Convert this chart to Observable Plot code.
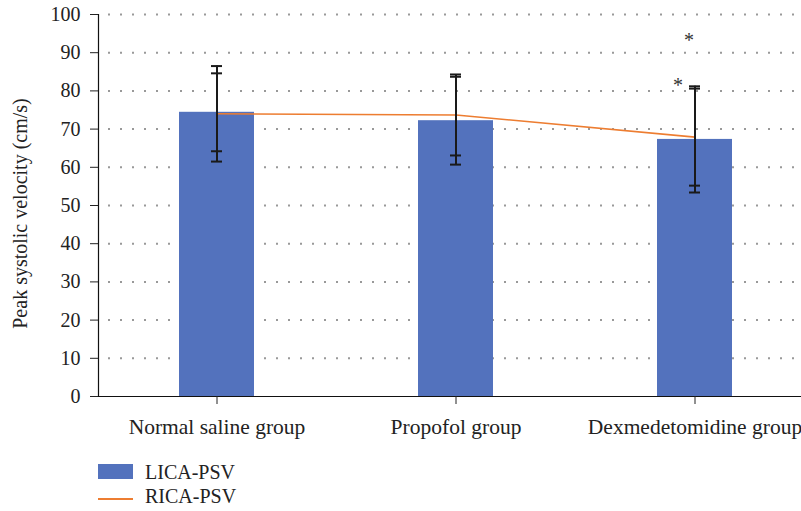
<!DOCTYPE html>
<html>
<head>
<meta charset="utf-8">
<script src="https://cdn.jsdelivr.net/npm/d3@7"></script>
<script src="https://cdn.jsdelivr.net/npm/@observablehq/plot@0.6"></script>
<style>
  body { margin: 0; background: #fff; font-family: "Liberation Serif", serif; }
  #wrap { position: relative; width: 801px; height: 511px; overflow: hidden; }
  #legend { position: absolute; left: 0; top: 0; width: 801px; height: 511px; pointer-events: none; }
  .sw { position: absolute; }
  .lt { position: absolute; font-size: 20px; color: #222; line-height: 20px; }
</style>
</head>
<body>
<div id="wrap">
  <div id="chart"></div>
  <div id="legend"></div>
</div>
<script>
const groups = ["Normal saline group", "Propofol group", "Dexmedetomidine group"];
const licaMean = [74.4, 72.2, 67.3];
const licaSD = [10.2, 11.5, 13.9];
const ricaMean = [74.0, 73.7, 67.9];
const ricaSD = [12.5, 10.6, 12.7];
const yTicks = [0, 10, 20, 30, 40, 50, 60, 70, 80, 90, 100];
const gridTicks = [10, 20, 30, 40, 50, 60, 70, 80, 90, 100];
const sigGroup = ["Dexmedetomidine group", "Dexmedetomidine group"];
const sigY = [93.3, 81.5];
const sigLabels = ["*", "*"];
const seriesNames = ["LICA-PSV", "RICA-PSV"];
const seriesColors = ["#5372bd", "#ED7D31"];
const yTitle = "Peak systolic velocity (cm/s)";

const lica = groups.map((g, i) => ({group: g, mean: licaMean[i], sd: licaSD[i]}));
const rica = groups.map((g, i) => ({group: g, mean: ricaMean[i], sd: ricaSD[i]}));
const errs = [...lica, ...rica];
const sig = sigGroup.map((g, i) => ({group: g, y: sigY[i], label: sigLabels[i]}));
const sigShift = [-6, -17];

const chart = Plot.plot({
  width: 801,
  height: 450,
  marginLeft: 98,
  marginRight: 0,
  marginTop: 14,
  marginBottom: 54,
  style: {fontFamily: "Liberation Serif, serif", fontSize: "20px", color: "#222", background: "#fff"},
  x: {type: "band", domain: groups, range: [97.5, 814.5], paddingInner: 0.686, paddingOuter: 0.343, align: 0.5},
  y: {domain: [0, 100]},
  marks: [
    Plot.ruleY(gridTicks, {stroke: "#999", strokeWidth: 2, strokeDasharray: "2,10", strokeDashoffset: -10}),
    Plot.barY(lica, {x: "group", y: "mean", fill: seriesColors[0]}),
    Plot.line(rica, {x: "group", y: "mean", stroke: seriesColors[1], strokeWidth: 1.6}),
    Plot.ruleX(errs, {x: "group", y1: d => d.mean - d.sd, y2: d => d.mean + d.sd, stroke: "#1a1a1a", strokeWidth: 2}),
    Plot.tickY(errs, {x: "group", y: d => d.mean + d.sd, stroke: "#1a1a1a", strokeWidth: 2, insetLeft: 32, insetRight: 32}),
    Plot.tickY(errs, {x: "group", y: d => d.mean - d.sd, stroke: "#1a1a1a", strokeWidth: 2, insetLeft: 32, insetRight: 32}),
    ...sig.map((s, i) => Plot.text([s], {x: "group", y: "y", text: "label", dx: sigShift[i], fontSize: 20, fill: "#333"})),
    Plot.ruleY([0], {stroke: "#111", strokeWidth: 1.2}),
    Plot.frame({anchor: "left", stroke: "#111", strokeWidth: 1.2}),
    Plot.axisY({ticks: yTicks, tickSize: 8, tickPadding: 10, label: null, fontSize: 20}),
    Plot.axisX({tickSize: 8, tickPadding: 14, label: null, fontSize: 21.5}),
    Plot.text([yTitle], {frameAnchor: "left", dx: -78, dy: 8, rotate: -90, textAnchor: "middle", text: d => d, fontSize: 20, fill: "#222"})
  ]
});
document.getElementById("chart").appendChild(chart);

const legend = document.getElementById("legend");
legend.innerHTML = `
  <div class="sw" style="left:98px;top:464px;width:35px;height:15px;background:${seriesColors[0]}"></div>
  <div class="lt" style="left:145px;top:462px">${seriesNames[0]}</div>
  <div class="sw" style="left:98px;top:498px;width:35px;height:2px;background:${seriesColors[1]}"></div>
  <div class="lt" style="left:145px;top:486px">${seriesNames[1]}</div>`;
</script>
</body>
</html>
